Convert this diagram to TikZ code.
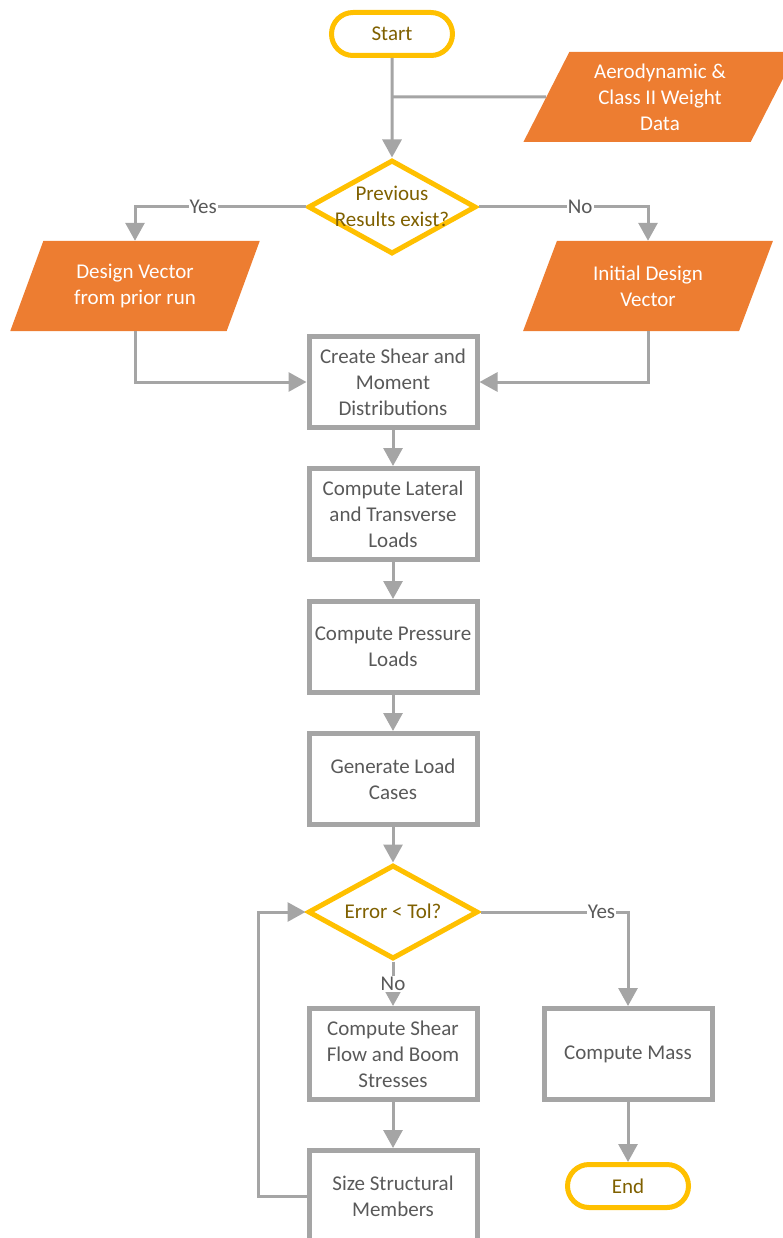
\documentclass[tikz,border=0pt]{standalone}
\usepackage{fontspec}
\setmainfont{Carlito}
\usetikzlibrary{shapes.geometric,shapes.misc,arrows.meta}
\definecolor{fyellow}{HTML}{FFC000}
\definecolor{forange}{HTML}{ED7D31}
\definecolor{lgray}{HTML}{A5A5A5}
\definecolor{tgray}{HTML}{595959}
\definecolor{olive}{HTML}{7F6000}

\begin{document}
\begin{tikzpicture}[x=1pt,y=-1pt,
  font=\fontsize{21}{26}\selectfont,
  terminal/.style={rounded rectangle, draw=fyellow, line width=5pt,
    minimum width=121pt, minimum height=43pt, text=olive, inner sep=0pt},
  decision/.style={diamond, draw=fyellow, line width=5pt,
    minimum width=168pt, minimum height=94pt, inner sep=0pt},
  dtext/.style={text=olive, align=center, inner sep=0pt},
  process/.style={rectangle, draw=lgray, line width=5pt,
    minimum width=168pt, minimum height=91pt, text=tgray, align=center, inner sep=0pt},
  dataio/.style={trapezium, trapezium left angle=63.43, trapezium right angle=116.57,
    trapezium stretches=true, fill=forange, text=white, align=center,
    minimum height=90pt, inner sep=0pt},
  flow/.style={draw=lgray, line width=3pt},
  arr/.style={flow, -{Triangle[length=18pt,width=19pt]}},
  lbl/.style={fill=white, text=tgray, inner sep=1pt}
]
\useasboundingbox (0,0) rectangle (782,1238);

% start and input data
\node[terminal] (start) at (392,34) {Start};
\node[dataio, minimum width=274pt] (aero) at (660,97) {Aerodynamic \&\\Class II Weight\\Data};

% first decision
\node[decision] (d1) at (392,207) {};
\node[dtext] (d1t) at (392,206) {Previous\\Results exist?};

% design vector inputs
\node[dataio, minimum width=250pt] (dv) at (135,286) {Design Vector\\from prior run};
\node[dataio, minimum width=250pt] (idv) at (648,286) {Initial Design\\Vector};

% main process chain
\node[process] (b1) at (393,382) {Create Shear and\\Moment\\Distributions};
\node[process] (b2) at (393,514) {Compute Lateral\\and Transverse\\Loads};
\node[process] (b3) at (393,647) {Compute Pressure\\Loads};
\node[process] (b4) at (393,779) {Generate Load\\Cases};

% convergence check
\node[decision, minimum width=170pt] (d2) at (393,912) {};
\node[dtext] (d2t) at (393,911) {Error < Tol?};

\node[process] (b5) at (393,1054) {Compute Shear\\Flow and Boom\\Stresses};
\node[process] (b6) at (393,1196) {Size Structural\\Members};
\node[process] (cm) at (628,1054) {Compute Mass};
\node[terminal] (end) at (628,1186) {End};

% connectors
\draw[arr] (start) -- (d1);
\draw[flow] (start.south |- aero) -- (aero);
\draw[arr] (d1.west) -| node[lbl, pos=0.3] {Yes} (dv.center |- dv.north);
\draw[arr] (d1.east) -| node[lbl, pos=0.3] {No} (idv.center |- idv.north);
\draw[arr] (dv.center |- dv.south) |- (b1.west);
\draw[arr] (idv.center |- idv.south) |- (b1.east);
\draw[arr] (b1.south) -- (b2.north);
\draw[arr] (b2.south) -- (b3.north);
\draw[arr] (b3.south) -- (b4.north);
\draw[arr] (b4.south) -- (d2.north);
\draw[arr] (d2.south) -- node[lbl] {No} (b5.north);
\draw[arr] (d2.east) -| node[lbl, pos=0.41] {Yes} (cm.north);
\draw[arr] (b5.south) -- (b6.north);
\draw[arr] (cm.south) -- (end.north);
\draw[arr] (b6.west) -- ++(-48,0) |- (d2.west);
\end{tikzpicture}
\end{document}
